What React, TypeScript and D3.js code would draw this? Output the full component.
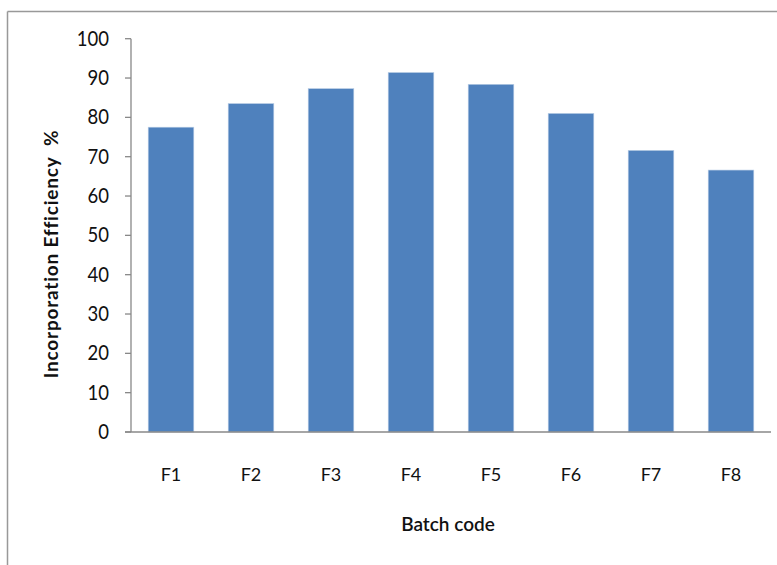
import React from "react";
import * as d3 from "d3";

const batches = ["F1", "F2", "F3", "F4", "F5", "F6", "F7", "F8"];
const efficiency = [77.5, 83.5, 87.3, 91.4, 88.4, 81.0, 71.6, 66.6];
const yTicks = [0, 10, 20, 30, 40, 50, 60, 70, 80, 90, 100];

const W = 777;
const H = 565;
const left = 131;
const right = 771;
const top = 38.7;
const bottom = 432;

export default function App() {
  const x = d3.scaleBand<string>().domain(batches).range([left, right]).paddingInner(0.43).paddingOuter(0.215);
  const y = d3.scaleLinear().domain([0, 100]).range([bottom, top]);
  const font = "Lato, 'Open Sans', sans-serif";

  return (
    <svg width={W} height={H} style={{ position: "absolute", left: 0, top: 0 }}>
      <rect x={0} y={0} width={W} height={H} fill="#fff" />
      {/* frame */}
      <line x1={7.5} y1={11.5} x2={W} y2={11.5} stroke="#999" strokeWidth={1.5} />
      <line x1={7.5} y1={11.5} x2={7.5} y2={H} stroke="#999" strokeWidth={1.5} />

      {/* bars */}
      {batches.map((b, i) => (
        <rect
          key={b}
          x={x(b)}
          y={y(efficiency[i])}
          width={x.bandwidth()}
          height={y(0) - y(efficiency[i])}
          fill="#4f81bd"
          stroke="#b9cde5"
          strokeWidth={0.6}
        />
      ))}

      {/* y axis */}
      <line x1={left} y1={y(100)} x2={left} y2={y(0)} stroke="#888" strokeWidth={1.3} />
      {yTicks.map((t) => (
        <g key={t}>
          <line x1={left - 6} x2={left} y1={y(t)} y2={y(t)} stroke="#888" strokeWidth={1.3} />
          <text
            transform={`translate(109,${y(t) + 7}) scale(1,1.15)`}
            textAnchor="end"
            fontFamily={font}
            fontSize={18.5}
            fill="#111"
          >
            {t}
          </text>
        </g>
      ))}

      {/* x axis */}
      <line x1={left - 6} x2={right} y1={y(0)} y2={y(0)} stroke="#888" strokeWidth={1.3} />
      {batches.map((b) => (
        <text
          key={b}
          x={(x(b) as number) + x.bandwidth() / 2}
          y={481}
          textAnchor="middle"
          fontFamily={font}
          fontSize={18}
          fill="#111"
        >
          {b}
        </text>
      ))}

      <text x={448} y={531} textAnchor="middle" fontFamily={font} fontSize={19} fontWeight={600} fill="#111">
        Batch code
      </text>
      <text
        transform={`translate(58,${254}) rotate(-90)`}
        textAnchor="middle"
        fontFamily={font}
        fontSize={19}
        fontWeight={700}
        letterSpacing={0.8}
        fill="#111"
        style={{ whiteSpace: "pre" }}
      >
        {"Incorporation Efficiency  %"}
      </text>
    </svg>
  );
}
